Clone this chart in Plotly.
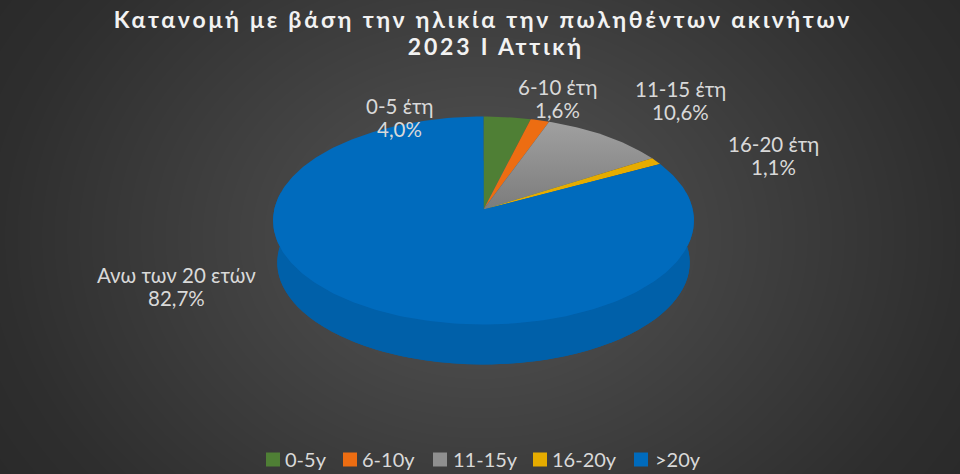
import math
import numpy as np
import plotly.graph_objects as go

# ---- data ----
categories = ["0-5y", "6-10y", "11-15y", "16-20y", ">20y"]
label_names = ["0-5 έτη", "6-10 έτη", "11-15 έτη", "16-20 έτη", "Ανω των 20 ετών"]
values = [4.0, 1.6, 10.6, 1.1, 82.7]
title_lines = ["Κατανομή με βάση την ηλικία την πωληθέντων ακινήτων", "2023 Ι Αττική"]

# ---- style ----
colors = ["#4f7f35", "#ed6d12", "#8f8f8f", "#e6ac00", "#006bbd"]
side_color = "#0060a9"
text_color = "#d9d9d9"
FONT = "Lato"
W, H = 960, 474

# ---- projection of the tilted disc ----
CX, CY = 483.5, 209.5
A, B, K = 209.3, 102.8, 0.106
DROP, SHRINK = 42.3, 0.98


def project(theta_deg, r=1.0, dy=0.0, s=1.0):
    t = np.radians(theta_deg)
    u, v = r * np.sin(t), r * np.cos(t)
    d = 1 + K * v
    return CX + s * A * u / d, CY + dy - s * B * v / d


fig = go.Figure()

# background gradient
gx = np.linspace(0, W, 97)
gy = np.linspace(0, H, 48)
xx, yy = np.meshgrid(gx, gy)
rr = np.sqrt(((xx - W / 2) / (W / 2)) ** 2 + ((yy - H / 2) / 380) ** 2) / 1.18
fig.add_trace(go.Heatmap(
    x=gx, y=gy, z=rr, zmin=0, zmax=1, zsmooth="best", showscale=False, hoverinfo="skip",
    colorscale=[[0, "#555555"], [0.85, "#2e2e2e"], [1, "#2a2a2a"]],
))

# underside + wall
bx, by = project(np.linspace(0, 360, 361), dy=DROP, s=SHRINK)
fig.add_trace(go.Scatter(x=bx, y=by, mode="lines", fill="toself", fillcolor=side_color,
                         line=dict(width=0), showlegend=False, hoverinfo="skip"))
front = np.linspace(80, 280, 201)
tx, ty = project(front)
ux, uy = project(front, dy=DROP, s=SHRINK)
fig.add_trace(go.Scatter(x=np.r_[tx, ux[::-1]], y=np.r_[ty, uy[::-1]], mode="lines", fill="toself",
                         fillcolor=side_color, line=dict(width=0), showlegend=False, hoverinfo="skip"))

# slices of the top face
total = sum(values)
start = 0.0
for name, val, col in zip(categories, values, colors):
    end = start + val / total * 360
    arc = np.linspace(start, end, max(2, int(end - start) + 2))
    ax, ay = project(arc)
    kw = dict(fillcolor=col)
    if name == "11-15y":
        kw = dict(fillgradient=dict(type="vertical", colorscale=[[0, "#7c7c7c"], [1, "#a0a0a0"]]))
    fig.add_trace(go.Scatter(x=np.r_[CX, ax, CX], y=np.r_[CY, ay, CY], mode="lines", fill="toself",
                             line=dict(width=0), showlegend=False, hoverinfo="skip", **kw))
    start = end

# legend entries
for name, col in zip(categories, colors):
    fig.add_trace(go.Scatter(x=[None], y=[None], mode="markers", name=name,
                             marker=dict(symbol="square", size=14, color=col)))

# data labels: name line and value line
label_pos = [(399.5, 117), (557, 98), (680, 100), (773, 155), (176, 286)]
LINE = 11.5
for nm, val, (lx, ly) in zip(label_names, values, label_pos):
    for txt, yy_ in ((nm, ly - LINE), (f"{val:.1f}%".replace(".", ","), ly + LINE)):
        fig.add_annotation(x=lx, y=yy_, xref="x", yref="y", showarrow=False, text=txt,
                           font=dict(family=FONT, size=20.5, color=text_color))

fig.update_layout(
    width=W, height=H, margin=dict(l=0, r=0, t=0, b=0),
    paper_bgcolor="#333333", plot_bgcolor="rgba(0,0,0,0)",
    xaxis=dict(range=[0, W], visible=False, fixedrange=True),
    yaxis=dict(range=[H, 0], visible=False, fixedrange=True),
    title=dict(text="<br>".join(title_lines), x=0.503, xanchor="center", y=0.941, yanchor="top",
               automargin=False,
               font=dict(family=FONT, size=23, color="#f2f2f2", weight="bold")),
    legend=dict(orientation="h", x=0.5, xanchor="center", y=0.0, yanchor="bottom",
                font=dict(family=FONT, size=20, color=text_color), itemwidth=30,
                bgcolor="rgba(0,0,0,0)"),
    showlegend=True,
)

# page chrome, title tracking/leading and legend entry spacing that plotly has no option for
post = """
document.body.style.margin='0';document.body.style.overflow='hidden';
var s=document.createElement('style');
s.textContent='.gtitle{letter-spacing:2.8px}';
document.head.appendChild(s);
var l2=document.querySelectorAll('.gtitle tspan.line')[1];
if(l2){l2.setAttribute('dy','27px');l2.setAttribute('dx','13px');}
var swatch=[266,343,433,533,634], label=[285,362,453,552,655];
document.querySelectorAll('.legend .traces').forEach(function(g,i){
  var m=g.querySelector('.legendsymbols path, .scatterpts path, path.scatterpts');
  var t=g.querySelector('.legendtext');
  var tr=g.getAttribute('transform').match(/translate\\(([-\\d.]+)[ ,]*([-\\d.]+)?/);
  var dx=swatch[i]-m.getBoundingClientRect().left;
  g.setAttribute('transform','translate('+(parseFloat(tr[1])+dx)+','+(tr[2]||0)+')');
  var dt=label[i]-t.getBoundingClientRect().left;
  t.setAttribute('x',parseFloat(t.getAttribute('x'))+dt);
});
var lg=document.querySelector('.legend');
var first=lg.querySelector('.legendsymbols path, .scatterpts path, path.scatterpts').getBoundingClientRect();
var mt=lg.getAttribute('transform').match(/translate\\(([-\\d.]+)[ ,]*([-\\d.]+)?/);
lg.setAttribute('transform','translate('+mt[1]+','+(parseFloat(mt[2]||0)+459.5-(first.top+first.height/2))+')');
"""
fig.write_html("out.html", post_script=post, config=dict(displayModeBar=False))
